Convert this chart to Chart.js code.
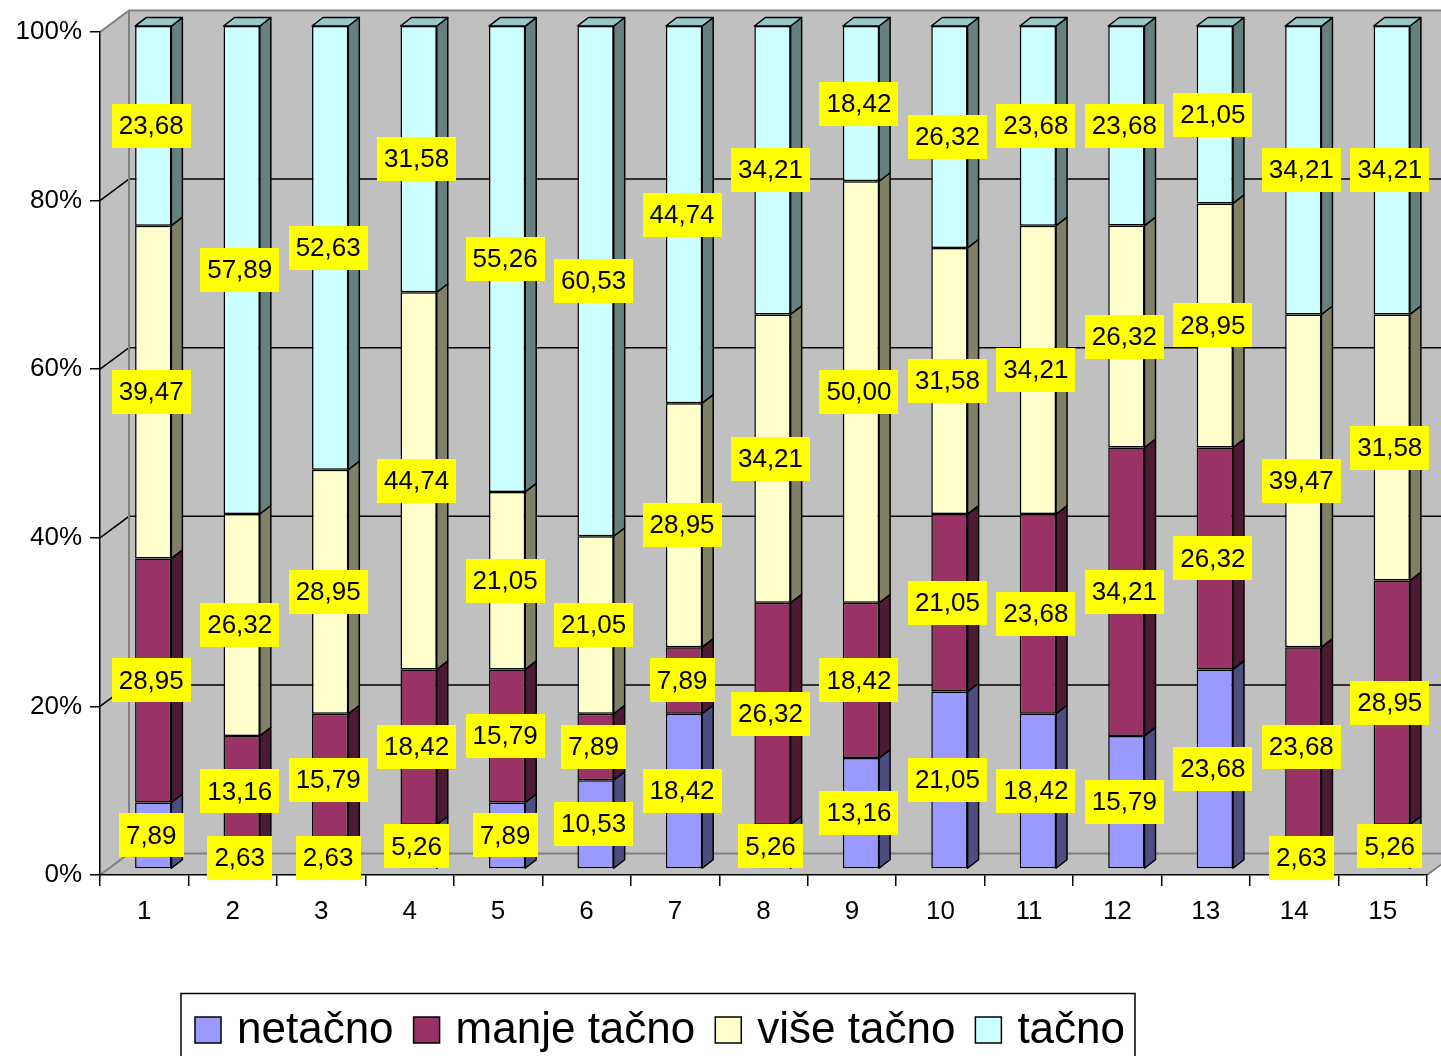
<!DOCTYPE html>
<html>
<head>
<meta charset="utf-8">
<script src="https://cdn.jsdelivr.net/npm/chart.js@4.4.1/dist/chart.umd.min.js"></script>
<style>
    html, body { margin: 0; padding: 0; background: #fff; }
    #wrap { width: 1441px; height: 1056px; overflow: hidden; }
</style>
</head>
<body>
<div id="wrap"><canvas id="chart" width="1441" height="1056"></canvas></div>
<script>
// Stacked 100% bars, Excel-like 3D look

const categories = ['1', '2', '3', '4', '5', '6', '7', '8', '9', '10', '11', '12', '13', '14', '15'];
const seriesNames = ['netačno', 'manje tačno', 'više tačno', 'tačno'];

const netacno     = [7.89, 2.63, 2.63, 5.26, 7.89, 10.53, 18.42, 5.26, 13.16, 21.05, 18.42, 15.79, 23.68, 2.63, 5.26];
const manjeTacno  = [28.95, 13.16, 15.79, 18.42, 15.79, 7.89, 7.89, 26.32, 18.42, 21.05, 23.68, 34.21, 26.32, 23.68, 28.95];
const viseTacno   = [39.47, 26.32, 28.95, 44.74, 21.05, 21.05, 28.95, 34.21, 50.00, 31.58, 34.21, 26.32, 28.95, 39.47, 31.58];
const tacno       = [23.68, 57.89, 52.63, 31.58, 55.26, 60.53, 44.74, 34.21, 18.42, 26.32, 23.68, 23.68, 21.05, 34.21, 34.21];

const yTicks = [0, 20, 40, 60, 80, 100];

const faceColors = ['#9999FF', '#993366', '#FFFFCC', '#CCFFFF'];
const sideColors = ['#4D4D80', '#4D1A33', '#808066', '#668080'];
const topColors  = ['#7A7ACC', '#7A2952', '#CCCCA3', '#99C8C8'];

// depth of the walls and position of the bars inside it
const WALL = { x: 29, y: -21.5 };
const BAR = { x0: 9, y0: -6, dx: 11, dy: -8.5 };

const fmt = v => v.toFixed(2).replace('.', ',');

const wallsPlugin = {
    id: 'walls',
    beforeDraw(chart) {
        const ctx = chart.ctx;
        const { left, right, top, bottom } = chart.chartArea;
        const y = chart.scales.y;
        ctx.save();
        ctx.fillStyle = '#fff';
        ctx.fillRect(0, 0, chart.width, chart.height);

        ctx.fillStyle = '#C0C0C0';
        // back wall
        ctx.fillRect(left + WALL.x, top + WALL.y, right - left, bottom - top);
        // left wall
        ctx.beginPath();
        ctx.moveTo(left, top);
        ctx.lineTo(left + WALL.x, top + WALL.y);
        ctx.lineTo(left + WALL.x, bottom + WALL.y);
        ctx.lineTo(left, bottom);
        ctx.closePath();
        ctx.fill();
        // floor
        ctx.beginPath();
        ctx.moveTo(left, bottom);
        ctx.lineTo(left + WALL.x, bottom + WALL.y);
        ctx.lineTo(right + WALL.x, bottom + WALL.y);
        ctx.lineTo(right, bottom);
        ctx.closePath();
        ctx.fill();

        // gridlines
        ctx.strokeStyle = '#000';
        ctx.lineWidth = 1.5;
        yTicks.slice(1, -1).forEach(v => {
            const py = y.getPixelForValue(v);
            ctx.beginPath();
            ctx.moveTo(left, py);
            ctx.lineTo(left + WALL.x, py + WALL.y);
            ctx.lineTo(right + WALL.x, py + WALL.y);
            ctx.stroke();
        });

        // wall edges
        ctx.strokeStyle = '#808080';
        ctx.lineWidth = 2;
        ctx.beginPath();
        ctx.moveTo(left, top);
        ctx.lineTo(left + WALL.x, top + WALL.y);
        ctx.lineTo(right + WALL.x, top + WALL.y);
        ctx.moveTo(left + WALL.x, top + WALL.y);
        ctx.lineTo(left + WALL.x, bottom + WALL.y);
        ctx.lineTo(right + WALL.x, bottom + WALL.y);
        ctx.moveTo(left, bottom);
        ctx.lineTo(left + WALL.x, bottom + WALL.y);
        ctx.moveTo(right, bottom);
        ctx.lineTo(right + WALL.x, bottom + WALL.y);
        ctx.stroke();
        ctx.restore();
    },
    beforeDatasetsDraw(chart) {
        chart.ctx.save();
        chart.ctx.translate(BAR.x0, BAR.y0);
    },
    afterDatasetsDraw(chart) {
        const ctx = chart.ctx;
        ctx.strokeStyle = '#000';
        ctx.lineWidth = 1.5;
        ctx.lineJoin = 'round';
        const last = chart.data.datasets.length - 1;
        chart.data.datasets.forEach((ds, di) => {
            const meta = chart.getDatasetMeta(di);
            meta.data.forEach(el => {
                const xl = el.x - el.width / 2;
                const xr = el.x + el.width / 2;
                const yt = Math.min(el.y, el.base);
                const yb = Math.max(el.y, el.base);
                // side face
                ctx.beginPath();
                ctx.moveTo(xr, yt);
                ctx.lineTo(xr + BAR.dx, yt + BAR.dy);
                ctx.lineTo(xr + BAR.dx, yb + BAR.dy);
                ctx.lineTo(xr, yb);
                ctx.closePath();
                ctx.fillStyle = sideColors[di];
                ctx.fill();
                ctx.stroke();
                if (di === last) {
                    ctx.beginPath();
                    ctx.moveTo(xl, yt);
                    ctx.lineTo(xl + BAR.dx, yt + BAR.dy);
                    ctx.lineTo(xr + BAR.dx, yt + BAR.dy);
                    ctx.lineTo(xr, yt);
                    ctx.closePath();
                    ctx.fillStyle = topColors[di];
                    ctx.fill();
                    ctx.stroke();
                }
            });
        });
        ctx.restore();
    },
    afterDraw(chart) {
        const ctx = chart.ctx;
        ctx.save();
        // value labels
        ctx.font = '26px "Liberation Sans", Arial, sans-serif';
        ctx.textAlign = 'center';
        ctx.textBaseline = 'middle';
        chart.data.datasets.forEach((ds, di) => {
            chart.getDatasetMeta(di).data.forEach((el, i) => {
                const text = fmt(ds.data[i]);
                const cx = el.x + BAR.x0 - 2;
                const cy = (el.y + el.base) / 2 + BAR.y0;
                const w = ctx.measureText(text).width + 14;
                const h = 44;
                ctx.fillStyle = '#FFFF00';
                ctx.fillRect(Math.round(cx - w / 2), Math.round(cy - h / 2), Math.round(w), h);
                ctx.fillStyle = '#000';
                ctx.fillText(text, cx, cy + 1);
            });
        });

        // legend
        ctx.font = '44px "Liberation Sans", Arial, sans-serif';
        ctx.textAlign = 'left';
        ctx.textBaseline = 'middle';
        ctx.strokeStyle = '#000';
        ctx.lineWidth = 1.5;
        ctx.strokeRect(181, 993.5, 954, 80);
        let x = 195;
        const cy = 1030;
        chart.data.datasets.forEach((ds, di) => {
            ctx.fillStyle = faceColors[di];
            ctx.fillRect(x, cy - 13, 26, 26);
            ctx.strokeRect(x, cy - 13, 26, 26);
            ctx.fillStyle = '#000';
            ctx.fillText(ds.label, x + 42, cy + 1);
            x += 42 + ctx.measureText(ds.label).width + 20;
        });
        ctx.restore();
    }
};

const seriesData = [netacno, manjeTacno, viseTacno, tacno];

new Chart(document.getElementById('chart'), {
    type: 'bar',
    data: {
        labels: categories,
        datasets: seriesNames.map((name, i) => ({
            label: name,
            data: seriesData[i],
            backgroundColor: faceColors[i],
            borderColor: '#000',
            borderWidth: 1.5,
            borderSkipped: false,
            categoryPercentage: 1,
            barPercentage: 0.41,
            clip: false
        }))
    },
    options: {
        responsive: false,
        animation: false,
        devicePixelRatio: 1,
        layout: { padding: { top: 32, right: 14, left: 0, bottom: 0 } },
        plugins: {
            legend: { display: false },
            tooltip: { enabled: false }
        },
        scales: {
            x: {
                stacked: true,
                afterFit: s => { s.height = 181; },
                grid: { drawOnChartArea: false, drawTicks: true, tickLength: 11, color: '#000', lineWidth: 1.5, offset: true },
                border: { display: true, color: '#000', width: 1.5 },
                ticks: { color: '#000', padding: 10, font: { size: 26, family: '"Liberation Sans", Arial, sans-serif' } }
            },
            y: {
                stacked: true,
                min: 0,
                max: 100,
                afterFit: s => { s.width = 100; },
                afterBuildTicks: s => { s.ticks = yTicks.map(v => ({ value: v })); },
                grid: { drawOnChartArea: false, drawTicks: true, tickLength: 10, color: '#000', lineWidth: 1.5 },
                border: { display: true, color: '#000', width: 1.5 },
                ticks: {
                    color: '#000',
                    padding: 8,
                    font: { size: 26, family: '"Liberation Sans", Arial, sans-serif' },
                    callback: v => v + '%'
                }
            }
        }
    },
    plugins: [wallsPlugin]
});
</script>
</body>
</html>
